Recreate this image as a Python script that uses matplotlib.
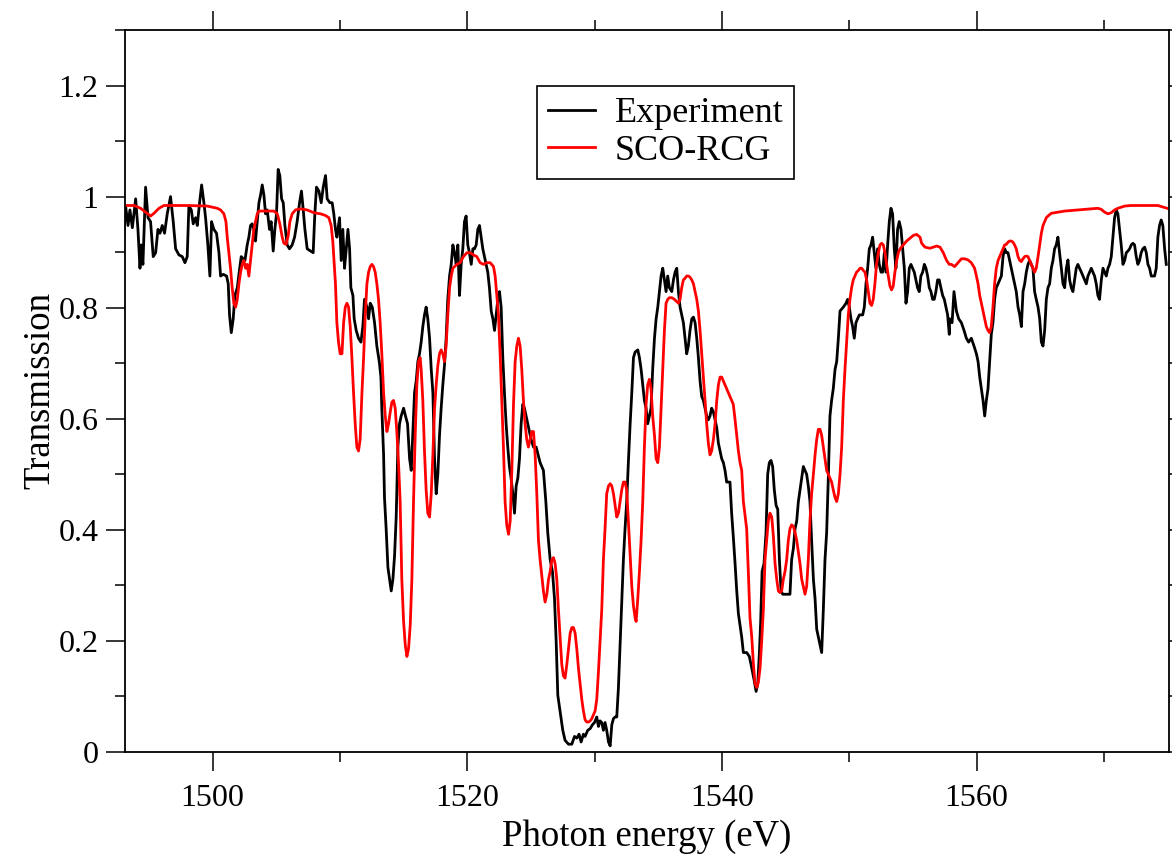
import matplotlib
matplotlib.use("Agg")
import matplotlib.pyplot as plt
from matplotlib.ticker import MultipleLocator

plt.rcParams['font.family'] = ['Liberation Serif', 'DejaVu Serif']

exp_e = [1492.99, 1493.17, 1493.36, 1493.51, 1493.70, 1493.96, 1494.14, 1494.30, 1494.40, 1494.53,
         1494.74, 1494.93, 1495.13, 1495.34, 1495.53, 1495.71, 1495.87, 1496.05, 1496.23, 1496.44,
         1496.70, 1496.91, 1497.10, 1497.36, 1497.62, 1497.83, 1498.01, 1498.14, 1498.33, 1498.48,
         1498.67, 1498.80, 1498.98, 1499.14, 1499.32, 1499.45, 1499.63, 1499.79, 1499.92, 1500.10,
         1500.31, 1500.50, 1500.63, 1500.84, 1501.10, 1501.23, 1501.33, 1501.47, 1501.62, 1501.75,
         1501.94, 1502.09, 1502.25, 1502.41, 1502.54, 1502.72, 1502.85, 1502.98, 1503.11, 1503.24,
         1503.37, 1503.51, 1503.64, 1503.77, 1503.90, 1504.03, 1504.16, 1504.29, 1504.47, 1504.60,
         1504.76, 1504.89, 1505.02, 1505.15, 1505.28, 1505.42, 1505.55, 1505.68, 1505.86, 1506.04,
         1506.25, 1506.44, 1506.64, 1506.83, 1506.98, 1507.12, 1507.25, 1507.43, 1507.69, 1507.90,
         1508.03, 1508.16, 1508.35, 1508.53, 1508.69, 1508.87, 1509.00, 1509.21, 1509.39, 1509.52,
         1509.65, 1509.76, 1509.97, 1510.10, 1510.23, 1510.36, 1510.50, 1510.63, 1510.76, 1510.86,
         1511.02, 1511.12, 1511.28, 1511.46, 1511.65, 1511.80, 1511.93, 1512.12, 1512.25, 1512.38,
         1512.54, 1512.72, 1512.90, 1513.09, 1513.22, 1513.29, 1513.43, 1513.50, 1513.63, 1513.77,
         1513.90, 1514.03, 1514.16, 1514.29, 1514.42, 1514.55, 1514.68, 1514.81, 1515.00, 1515.15,
         1515.31, 1515.47, 1515.60, 1515.73, 1515.86, 1515.99, 1516.12, 1516.25, 1516.38, 1516.51,
         1516.64, 1516.77, 1516.90, 1517.04, 1517.17, 1517.30, 1517.43, 1517.56, 1517.69, 1517.82,
         1517.95, 1518.08, 1518.21, 1518.34, 1518.47, 1518.61, 1518.74, 1518.87, 1519.00, 1519.13,
         1519.26, 1519.39, 1519.52, 1519.65, 1519.78, 1519.91, 1520.04, 1520.17, 1520.31, 1520.44,
         1520.57, 1520.70, 1520.83, 1520.96, 1521.09, 1521.22, 1521.35, 1521.48, 1521.61, 1521.74,
         1521.88, 1522.01, 1522.14, 1522.27, 1522.40, 1522.53, 1522.66, 1522.79, 1522.92, 1523.05,
         1523.18, 1523.31, 1523.44, 1523.58, 1523.71, 1523.84, 1523.97, 1524.10, 1524.23, 1524.36,
         1524.49, 1524.62, 1524.75, 1524.88, 1525.01, 1525.20, 1525.41, 1525.72, 1525.98, 1526.17,
         1526.32, 1526.51, 1526.69, 1526.85, 1526.98, 1527.11, 1527.24, 1527.37, 1527.50, 1527.68,
         1527.95, 1528.21, 1528.42, 1528.60, 1528.78, 1528.94, 1529.12, 1529.25, 1529.46, 1529.65,
         1529.83, 1529.99, 1530.17, 1530.30, 1530.43, 1530.56, 1530.69, 1530.82, 1530.95, 1531.09,
         1531.22, 1531.35, 1531.48, 1531.61, 1531.74, 1531.87, 1532.00, 1532.13, 1532.26, 1532.39,
         1532.52, 1532.65, 1532.79, 1532.92, 1533.05, 1533.18, 1533.39, 1533.52, 1533.65, 1533.78,
         1533.91, 1534.04, 1534.17, 1534.30, 1534.43, 1534.56, 1534.70, 1534.83, 1534.96, 1535.09,
         1535.22, 1535.35, 1535.48, 1535.61, 1535.74, 1535.87, 1536.06, 1536.19, 1536.32, 1536.45,
         1536.58, 1536.71, 1536.84, 1536.97, 1537.10, 1537.23, 1537.36, 1537.49, 1537.63, 1537.76,
         1537.89, 1538.02, 1538.15, 1538.28, 1538.41, 1538.54, 1538.67, 1538.80, 1538.93, 1539.06,
         1539.19, 1539.33, 1539.46, 1539.59, 1539.72, 1539.85, 1539.98, 1540.11, 1540.24, 1540.37,
         1540.50, 1540.63, 1540.76, 1540.89, 1541.03, 1541.16, 1541.29, 1541.42, 1541.55, 1541.68,
         1541.94, 1542.15, 1542.34, 1542.52, 1542.68, 1542.81, 1542.94, 1543.04, 1543.15, 1543.30,
         1543.46, 1543.59, 1543.72, 1543.85, 1543.98, 1544.11, 1544.25, 1544.38, 1544.51, 1544.64,
         1544.77, 1544.95, 1545.16, 1545.34, 1545.47, 1545.61, 1545.74, 1545.87, 1546.00, 1546.13,
         1546.26, 1546.39, 1546.52, 1546.65, 1546.78, 1546.91, 1547.04, 1547.18, 1547.31, 1547.44,
         1547.57, 1547.70, 1547.83, 1547.96, 1548.09, 1548.22, 1548.35, 1548.48, 1548.61, 1548.74,
         1548.88, 1549.01, 1549.14, 1549.27, 1549.53, 1549.74, 1549.87, 1550.00, 1550.13, 1550.26,
         1550.39, 1550.52, 1550.65, 1550.79, 1550.92, 1551.05, 1551.18, 1551.31, 1551.44, 1551.57,
         1551.70, 1551.83, 1551.96, 1552.09, 1552.22, 1552.35, 1552.49, 1552.62, 1552.75, 1552.88,
         1553.01, 1553.14, 1553.27, 1553.40, 1553.53, 1553.66, 1553.79, 1553.92, 1554.06, 1554.19,
         1554.32, 1554.45, 1554.58, 1554.71, 1554.84, 1554.97, 1555.10, 1555.23, 1555.36, 1555.49,
         1555.62, 1555.76, 1555.89, 1556.02, 1556.15, 1556.28, 1556.41, 1556.54, 1556.67, 1556.80,
         1556.93, 1557.06, 1557.19, 1557.33, 1557.46, 1557.59, 1557.72, 1557.85, 1557.88, 1558.07,
         1558.22, 1558.41, 1558.59, 1558.80, 1559.01, 1559.19, 1559.37, 1559.58, 1559.79, 1559.98,
         1560.11, 1560.24, 1560.37, 1560.50, 1560.63, 1560.76, 1560.89, 1561.02, 1561.15, 1561.28,
         1561.41, 1561.54, 1561.68, 1561.81, 1561.94, 1562.07, 1562.20, 1562.33, 1562.46, 1562.59,
         1562.72, 1562.85, 1562.98, 1563.11, 1563.25, 1563.38, 1563.51, 1563.64, 1563.77, 1563.90,
         1564.03, 1564.16, 1564.29, 1564.42, 1564.55, 1564.68, 1564.82, 1564.95, 1565.08, 1565.21,
         1565.34, 1565.47, 1565.60, 1565.73, 1565.86, 1565.99, 1566.12, 1566.25, 1566.38, 1566.51,
         1566.65, 1566.78, 1566.91, 1567.04, 1567.17, 1567.30, 1567.43, 1567.56, 1567.69, 1567.82,
         1567.95, 1568.08, 1568.22, 1568.35, 1568.48, 1568.61, 1568.74, 1568.87, 1569.00, 1569.13,
         1569.26, 1569.39, 1569.52, 1569.65, 1569.79, 1569.92, 1570.05, 1570.18, 1570.31, 1570.44,
         1570.57, 1570.70, 1570.83, 1570.96, 1571.09, 1571.22, 1571.35, 1571.49, 1571.62, 1571.75,
         1571.88, 1572.01, 1572.14, 1572.27, 1572.40, 1572.53, 1572.66, 1572.79, 1572.92, 1573.05,
         1573.19, 1573.32, 1573.45, 1573.58, 1573.71, 1573.84, 1573.97, 1574.10, 1574.23, 1574.36,
         1574.49, 1574.62, 1574.76, 1574.89]
exp_t = [0.913, 0.983, 0.948, 0.976, 0.944, 0.996, 0.941, 0.871, 0.913, 0.878,
         1.017, 0.962, 0.955, 0.892, 0.899, 0.941, 0.934, 0.948, 0.934, 0.969,
         1.000, 0.955, 0.906, 0.895, 0.892, 0.881, 0.892, 0.983, 0.976, 0.951,
         0.962, 0.948, 0.989, 1.021, 0.989, 0.962, 0.913, 0.857, 0.955, 0.941,
         0.934, 0.899, 0.857, 0.860, 0.857, 0.843, 0.787, 0.755, 0.780, 0.822,
         0.836, 0.864, 0.892, 0.888, 0.885, 0.913, 0.927, 0.948, 0.951, 0.941,
         0.920, 0.955, 0.989, 1.003, 1.021, 1.003, 0.969, 0.976, 0.941, 0.955,
         0.902, 0.941, 0.969, 1.049, 1.038, 0.996, 0.989, 0.948, 0.913, 0.906,
         0.913, 0.927, 0.955, 0.989, 1.010, 0.976, 0.941, 0.906, 0.902, 0.899,
         0.969, 1.017, 1.010, 0.989, 1.017, 1.038, 0.996, 0.989, 0.989, 0.969,
         0.941, 0.927, 0.962, 0.885, 0.941, 0.871, 0.906, 0.941, 0.906, 0.836,
         0.822, 0.780, 0.759, 0.745, 0.738, 0.766, 0.815, 0.801, 0.780, 0.808,
         0.801, 0.773, 0.731, 0.703, 0.675, 0.619, 0.535, 0.458, 0.402, 0.332,
         0.311, 0.290, 0.311, 0.353, 0.423, 0.549, 0.591, 0.605, 0.619, 0.605,
         0.591, 0.528, 0.507, 0.577, 0.647, 0.668, 0.703, 0.717, 0.738, 0.766,
         0.787, 0.801, 0.780, 0.745, 0.689, 0.647, 0.528, 0.465, 0.500, 0.570,
         0.619, 0.661, 0.696, 0.745, 0.815, 0.857, 0.878, 0.913, 0.899, 0.878,
         0.913, 0.822, 0.878, 0.906, 0.955, 0.965, 0.913, 0.899, 0.878, 0.906,
         0.906, 0.913, 0.941, 0.948, 0.927, 0.906, 0.892, 0.878, 0.864, 0.836,
         0.794, 0.780, 0.759, 0.787, 0.815, 0.829, 0.801, 0.710, 0.647, 0.591,
         0.549, 0.514, 0.493, 0.465, 0.430, 0.479, 0.493, 0.528, 0.591, 0.626,
         0.619, 0.605, 0.591, 0.577, 0.563, 0.549, 0.549, 0.521, 0.507, 0.451,
         0.395, 0.346, 0.325, 0.276, 0.200, 0.102, 0.081, 0.060, 0.039, 0.021,
         0.014, 0.014, 0.028, 0.025, 0.032, 0.018, 0.032, 0.028, 0.039, 0.042,
         0.049, 0.053, 0.063, 0.046, 0.056, 0.053, 0.039, 0.053, 0.039, 0.018,
         0.011, 0.049, 0.060, 0.063, 0.063, 0.116, 0.193, 0.270, 0.346, 0.402,
         0.451, 0.521, 0.591, 0.647, 0.710, 0.720, 0.724, 0.710, 0.689, 0.661,
         0.633, 0.619, 0.591, 0.605, 0.619, 0.689, 0.745, 0.780, 0.801, 0.829,
         0.857, 0.871, 0.850, 0.829, 0.857, 0.836, 0.829, 0.850, 0.864, 0.871,
         0.829, 0.801, 0.787, 0.773, 0.745, 0.717, 0.731, 0.759, 0.780, 0.783,
         0.773, 0.745, 0.710, 0.668, 0.640, 0.633, 0.619, 0.605, 0.598, 0.605,
         0.619, 0.612, 0.598, 0.584, 0.556, 0.542, 0.528, 0.521, 0.507, 0.486,
         0.486, 0.486, 0.430, 0.388, 0.339, 0.290, 0.249, 0.228, 0.207, 0.179,
         0.179, 0.172, 0.151, 0.130, 0.109, 0.123, 0.179, 0.235, 0.325, 0.339,
         0.395, 0.500, 0.521, 0.525, 0.514, 0.472, 0.444, 0.437, 0.346, 0.290,
         0.284, 0.284, 0.284, 0.284, 0.346, 0.367, 0.402, 0.416, 0.451, 0.472,
         0.493, 0.514, 0.507, 0.500, 0.479, 0.451, 0.381, 0.311, 0.276, 0.221,
         0.207, 0.193, 0.179, 0.256, 0.346, 0.395, 0.493, 0.605, 0.633, 0.654,
         0.689, 0.703, 0.745, 0.794, 0.801, 0.808, 0.815, 0.801, 0.780, 0.766,
         0.745, 0.773, 0.780, 0.787, 0.787, 0.787, 0.801, 0.843, 0.871, 0.906,
         0.913, 0.927, 0.899, 0.871, 0.906, 0.878, 0.864, 0.864, 0.899, 0.864,
         0.913, 0.955, 0.979, 0.969, 0.906, 0.871, 0.941, 0.955, 0.941, 0.906,
         0.871, 0.808, 0.829, 0.871, 0.878, 0.871, 0.864, 0.850, 0.836, 0.829,
         0.857, 0.864, 0.878, 0.871, 0.857, 0.836, 0.829, 0.815, 0.815, 0.829,
         0.850, 0.850, 0.836, 0.822, 0.815, 0.801, 0.787, 0.752, 0.780, 0.773,
         0.829, 0.794, 0.780, 0.773, 0.759, 0.745, 0.738, 0.745, 0.731, 0.717,
         0.703, 0.675, 0.654, 0.633, 0.605, 0.633, 0.654, 0.703, 0.752, 0.773,
         0.815, 0.836, 0.843, 0.850, 0.857, 0.892, 0.906, 0.899, 0.899, 0.885,
         0.871, 0.857, 0.843, 0.829, 0.801, 0.787, 0.766, 0.829, 0.843, 0.864,
         0.878, 0.885, 0.878, 0.871, 0.829, 0.815, 0.801, 0.780, 0.738, 0.731,
         0.759, 0.815, 0.836, 0.843, 0.871, 0.885, 0.906, 0.913, 0.927, 0.899,
         0.871, 0.843, 0.836, 0.871, 0.886, 0.850, 0.836, 0.829, 0.850, 0.871,
         0.878, 0.871, 0.864, 0.857, 0.850, 0.843, 0.857, 0.864, 0.871, 0.864,
         0.857, 0.843, 0.822, 0.815, 0.850, 0.871, 0.864, 0.857, 0.871, 0.878,
         0.892, 0.927, 0.962, 0.976, 0.969, 0.941, 0.913, 0.878, 0.885, 0.899,
         0.902, 0.906, 0.913, 0.916, 0.913, 0.892, 0.878, 0.885, 0.899, 0.906,
         0.909, 0.899, 0.878, 0.871, 0.857, 0.857, 0.857, 0.871, 0.927, 0.948,
         0.958, 0.948, 0.906, 0.878]

# SCO-RCG calculation
calc_e = [1492.99, 1493.83, 1494.35, 1494.74, 1495.13, 1495.40, 1495.79, 1496.18, 1498.01, 1499.58,
          1500.37, 1500.63, 1500.89, 1501.05, 1501.15, 1501.28, 1501.41, 1501.54, 1501.67, 1501.81,
          1501.94, 1502.07, 1502.20, 1502.33, 1502.46, 1502.59, 1502.72, 1502.85, 1502.98, 1503.11,
          1503.24, 1503.37, 1503.51, 1503.64, 1504.81, 1505.08, 1505.28, 1505.47, 1505.60, 1505.78,
          1505.94, 1506.07, 1506.25, 1506.51, 1506.91, 1507.43, 1507.95, 1508.48, 1508.87, 1509.13,
          1509.31, 1509.44, 1509.57, 1509.65, 1509.76, 1509.89, 1510.02, 1510.16, 1510.29, 1510.42,
          1510.55, 1510.68, 1510.81, 1510.94, 1511.07, 1511.20, 1511.33, 1511.46, 1511.59, 1511.73,
          1511.86, 1511.99, 1512.12, 1512.25, 1512.38, 1512.51, 1512.64, 1512.77, 1512.90, 1513.03,
          1513.16, 1513.29, 1513.43, 1513.56, 1513.69, 1513.82, 1513.95, 1514.08, 1514.21, 1514.34,
          1514.47, 1514.60, 1514.73, 1514.86, 1515.00, 1515.13, 1515.26, 1515.39, 1515.52, 1515.65,
          1515.78, 1515.91, 1516.04, 1516.17, 1516.30, 1516.38, 1516.51, 1516.64, 1516.77, 1516.90,
          1517.04, 1517.17, 1517.30, 1517.43, 1517.56, 1517.69, 1517.82, 1517.95, 1518.08, 1518.21,
          1518.34, 1518.47, 1518.61, 1518.74, 1518.87, 1519.00, 1519.18, 1519.44, 1519.70, 1519.97,
          1520.23, 1520.49, 1520.75, 1521.01, 1521.27, 1521.54, 1521.80, 1522.06, 1522.19, 1522.32,
          1522.45, 1522.58, 1522.71, 1522.84, 1522.97, 1523.10, 1523.24, 1523.37, 1523.50, 1523.63,
          1523.76, 1523.89, 1524.02, 1524.15, 1524.28, 1524.41, 1524.54, 1524.67, 1524.80, 1524.94,
          1525.07, 1525.20, 1525.33, 1525.46, 1525.59, 1525.72, 1525.85, 1525.98, 1526.11, 1526.25,
          1526.38, 1526.51, 1526.64, 1526.77, 1526.90, 1527.03, 1527.16, 1527.29, 1527.42, 1527.55,
          1527.68, 1527.82, 1527.95, 1528.08, 1528.21, 1528.34, 1528.47, 1528.60, 1528.73, 1528.86,
          1528.99, 1529.12, 1529.25, 1529.38, 1529.52, 1529.65, 1529.78, 1529.91, 1530.04, 1530.17,
          1530.30, 1530.43, 1530.56, 1530.69, 1530.82, 1530.95, 1531.09, 1531.22, 1531.35, 1531.48,
          1531.61, 1531.74, 1531.87, 1532.00, 1532.13, 1532.26, 1532.39, 1532.52, 1532.65, 1532.79,
          1532.92, 1533.05, 1533.18, 1533.26, 1533.39, 1533.52, 1533.65, 1533.78, 1533.91, 1534.04,
          1534.17, 1534.30, 1534.43, 1534.56, 1534.70, 1534.83, 1534.96, 1535.09, 1535.22, 1535.35,
          1535.48, 1535.61, 1535.74, 1535.87, 1536.06, 1536.27, 1536.45, 1536.58, 1536.71, 1536.84,
          1536.97, 1537.10, 1537.23, 1537.36, 1537.49, 1537.63, 1537.76, 1537.89, 1538.02, 1538.15,
          1538.28, 1538.41, 1538.54, 1538.67, 1538.80, 1538.93, 1539.06, 1539.19, 1539.33, 1539.46,
          1539.59, 1539.72, 1539.85, 1539.98, 1540.11, 1540.24, 1540.37, 1540.50, 1540.63, 1540.76,
          1540.89, 1541.03, 1541.16, 1541.29, 1541.42, 1541.55, 1541.68, 1541.94, 1542.07, 1542.20,
          1542.34, 1542.47, 1542.60, 1542.73, 1542.86, 1542.99, 1543.12, 1543.25, 1543.38, 1543.51,
          1543.64, 1543.77, 1543.91, 1544.04, 1544.17, 1544.30, 1544.43, 1544.56, 1544.69, 1544.82,
          1544.95, 1545.08, 1545.21, 1545.34, 1545.47, 1545.61, 1545.74, 1545.87, 1546.00, 1546.13,
          1546.26, 1546.39, 1546.52, 1546.65, 1546.78, 1546.91, 1547.04, 1547.18, 1547.31, 1547.44,
          1547.57, 1547.70, 1547.83, 1547.96, 1548.09, 1548.22, 1548.35, 1548.48, 1548.61, 1548.74,
          1548.88, 1549.01, 1549.14, 1549.27, 1549.40, 1549.53, 1549.66, 1549.79, 1549.92, 1550.05,
          1550.18, 1550.31, 1550.44, 1550.57, 1550.71, 1550.84, 1550.97, 1551.10, 1551.23, 1551.36,
          1551.49, 1551.62, 1551.75, 1551.88, 1552.01, 1552.14, 1552.28, 1552.41, 1552.54, 1552.67,
          1552.80, 1552.93, 1553.06, 1553.19, 1553.32, 1553.45, 1553.58, 1553.72, 1553.85, 1553.98,
          1554.24, 1554.50, 1554.76, 1555.02, 1555.28, 1555.55, 1555.68, 1555.94, 1556.33, 1556.59,
          1556.85, 1557.12, 1557.38, 1557.64, 1557.85, 1558.01, 1558.27, 1558.54, 1558.80, 1559.06,
          1559.32, 1559.58, 1559.84, 1559.98, 1560.11, 1560.24, 1560.37, 1560.50, 1560.63, 1560.76,
          1560.89, 1561.02, 1561.15, 1561.28, 1561.41, 1561.54, 1561.68, 1561.81, 1561.94, 1562.07,
          1562.20, 1562.33, 1562.46, 1562.59, 1562.72, 1562.85, 1562.98, 1563.11, 1563.25, 1563.38,
          1563.51, 1563.64, 1563.77, 1563.90, 1564.03, 1564.16, 1564.29, 1564.42, 1564.55, 1564.68,
          1564.82, 1564.95, 1565.08, 1565.21, 1565.34, 1565.47, 1565.60, 1565.86, 1566.38, 1566.91,
          1567.95, 1569.00, 1569.52, 1569.79, 1570.05, 1570.31, 1570.57, 1570.83, 1571.09, 1571.35,
          1571.62, 1572.14, 1574.23, 1574.96]
calc_t = [0.984, 0.984, 0.979, 0.972, 0.965, 0.970, 0.979, 0.984, 0.984, 0.983,
          0.979, 0.976, 0.969, 0.955, 0.927, 0.899, 0.871, 0.836, 0.808, 0.801,
          0.815, 0.843, 0.864, 0.878, 0.885, 0.871, 0.878, 0.857, 0.885, 0.913,
          0.941, 0.955, 0.969, 0.974, 0.974, 0.969, 0.951, 0.927, 0.916, 0.914,
          0.930, 0.955, 0.969, 0.976, 0.978, 0.976, 0.971, 0.969, 0.966, 0.962,
          0.948, 0.920, 0.871, 0.843, 0.773, 0.738, 0.717, 0.717, 0.773, 0.801,
          0.808, 0.801, 0.766, 0.710, 0.647, 0.591, 0.549, 0.542, 0.563, 0.647,
          0.710, 0.787, 0.843, 0.864, 0.874, 0.878, 0.874, 0.864, 0.843, 0.815,
          0.773, 0.717, 0.647, 0.605, 0.577, 0.591, 0.612, 0.630, 0.633, 0.619,
          0.577, 0.521, 0.451, 0.311, 0.235, 0.193, 0.172, 0.186, 0.228, 0.311,
          0.451, 0.570, 0.661, 0.703, 0.710, 0.689, 0.633, 0.542, 0.472, 0.430,
          0.423, 0.465, 0.535, 0.619, 0.661, 0.696, 0.717, 0.724, 0.717, 0.703,
          0.731, 0.787, 0.836, 0.857, 0.871, 0.874, 0.878, 0.881, 0.892, 0.899,
          0.899, 0.895, 0.892, 0.881, 0.878, 0.881, 0.881, 0.874, 0.857, 0.822,
          0.787, 0.717, 0.633, 0.549, 0.451, 0.409, 0.392, 0.416, 0.507, 0.626,
          0.703, 0.731, 0.745, 0.731, 0.689, 0.633, 0.591, 0.563, 0.549, 0.563,
          0.577, 0.577, 0.535, 0.465, 0.381, 0.346, 0.318, 0.290, 0.270, 0.284,
          0.311, 0.325, 0.346, 0.350, 0.339, 0.311, 0.256, 0.207, 0.158, 0.137,
          0.133, 0.158, 0.186, 0.214, 0.224, 0.224, 0.214, 0.186, 0.151, 0.123,
          0.095, 0.074, 0.058, 0.054, 0.054, 0.056, 0.060, 0.067, 0.074, 0.095,
          0.144, 0.200, 0.256, 0.346, 0.402, 0.465, 0.479, 0.483, 0.479, 0.465,
          0.444, 0.423, 0.430, 0.451, 0.472, 0.486, 0.486, 0.472, 0.416, 0.353,
          0.298, 0.263, 0.242, 0.235, 0.276, 0.325, 0.381, 0.451, 0.549, 0.626,
          0.661, 0.671, 0.654, 0.605, 0.570, 0.528, 0.521, 0.549, 0.619, 0.689,
          0.759, 0.808, 0.815, 0.818, 0.818, 0.815, 0.811, 0.808, 0.815, 0.836,
          0.850, 0.853, 0.857, 0.857, 0.855, 0.850, 0.843, 0.829, 0.815, 0.794,
          0.759, 0.717, 0.675, 0.633, 0.591, 0.556, 0.535, 0.542, 0.563, 0.591,
          0.633, 0.661, 0.675, 0.675, 0.668, 0.661, 0.654, 0.647, 0.640, 0.633,
          0.626, 0.598, 0.570, 0.542, 0.521, 0.507, 0.451, 0.402, 0.325, 0.242,
          0.207, 0.158, 0.123, 0.116, 0.126, 0.151, 0.200, 0.256, 0.346, 0.381,
          0.416, 0.430, 0.423, 0.388, 0.339, 0.311, 0.290, 0.287, 0.290, 0.311,
          0.325, 0.346, 0.381, 0.402, 0.409, 0.406, 0.395, 0.381, 0.360, 0.339,
          0.311, 0.298, 0.284, 0.298, 0.346, 0.416, 0.465, 0.500, 0.535, 0.563,
          0.581, 0.581, 0.570, 0.549, 0.528, 0.507, 0.500, 0.493, 0.486, 0.472,
          0.458, 0.451, 0.465, 0.500, 0.549, 0.633, 0.689, 0.738, 0.787, 0.815,
          0.836, 0.850, 0.857, 0.864, 0.867, 0.871, 0.871, 0.867, 0.864, 0.850,
          0.829, 0.808, 0.804, 0.815, 0.843, 0.878, 0.899, 0.913, 0.916, 0.913,
          0.899, 0.878, 0.857, 0.839, 0.832, 0.839, 0.864, 0.885, 0.899, 0.906,
          0.913, 0.920, 0.925, 0.930, 0.932, 0.927, 0.916, 0.909, 0.907, 0.909,
          0.911, 0.909, 0.899, 0.885, 0.878, 0.878, 0.874, 0.881, 0.888, 0.888,
          0.886, 0.881, 0.871, 0.857, 0.843, 0.822, 0.808, 0.794, 0.780, 0.766,
          0.759, 0.755, 0.766, 0.801, 0.843, 0.871, 0.885, 0.892, 0.899, 0.906,
          0.913, 0.914, 0.918, 0.920, 0.920, 0.918, 0.913, 0.906, 0.892, 0.885,
          0.883, 0.888, 0.892, 0.893, 0.892, 0.885, 0.878, 0.871, 0.864, 0.871,
          0.892, 0.913, 0.934, 0.948, 0.955, 0.962, 0.965, 0.970, 0.972, 0.974,
          0.976, 0.978, 0.979, 0.977, 0.972, 0.969, 0.971, 0.976, 0.979, 0.981,
          0.983, 0.984, 0.984, 0.979]

fig = plt.figure(figsize=(11.72, 8.55), dpi=100)
ax = fig.add_axes([0.1064, 0.1205, 0.8910, 0.8444])

ax.plot(exp_e, exp_t, color='black', lw=2.0, label='Experiment')
ax.plot(calc_e, calc_t, color='red', lw=2.0, label='SCO-RCG')

ax.set_xlim(1493.1, 1575.1)
ax.set_ylim(0, 1.3)
ax.xaxis.set_major_locator(MultipleLocator(20))
ax.xaxis.set_minor_locator(MultipleLocator(10))
ax.yaxis.set_major_locator(MultipleLocator(0.2))
ax.yaxis.set_minor_locator(MultipleLocator(0.1))
ax.set_yticks([0, 0.2, 0.4, 0.6, 0.8, 1.0, 1.2])
ax.set_yticklabels(['0', '0.2', '0.4', '0.6', '0.8', '1', '1.2'])

ax.tick_params(which='both', direction='out', top=True, right=True, width=1.1)
ax.tick_params(which='major', length=14, labelsize=23)
ax.tick_params(axis='x', which='major', pad=9)
ax.tick_params(axis='y', which='major', pad=5)
ax.tick_params(which='minor', length=7.5)
for s in ax.spines.values():
    s.set_linewidth(1.3)

ax.set_xlabel('Photon energy (eV)', fontsize=26.5, labelpad=5)
ax.set_ylabel('Transmission', fontsize=26.5, labelpad=1)

leg = ax.legend(loc='upper left', bbox_to_anchor=(0.395, 0.922), borderaxespad=0,
                fontsize=26, frameon=True, fancybox=False, framealpha=1,
                edgecolor='black', handlelength=1.3, handletextpad=0.55,
                labelspacing=0.12, borderpad=0.3)
leg.get_frame().set_linewidth(1.2)

fig.savefig('out.png', dpi=100)
